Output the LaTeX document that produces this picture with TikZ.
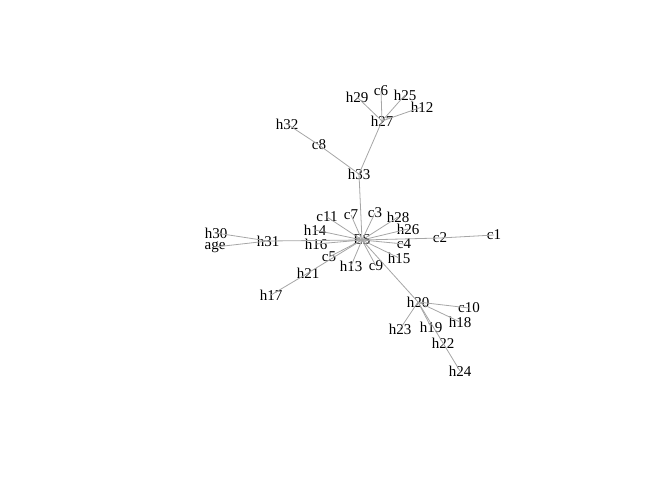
\documentclass[tikz,border=0pt]{standalone}
\usepackage{fontspec}
\setmainfont{Liberation Serif}
\tikzset{
  vlabel/.style={inner sep=0pt, font=\fontsize{15}{18}\selectfont},
  edge/.style={draw=gray!70, line width=0.8pt}
}
\begin{document}
\begin{tikzpicture}[x=1pt,y=-1pt]
\useasboundingbox (0,0) rectangle (672,480);
\foreach \n/\x/\y in {ES/362/240, h33/359/174, c8/319/145, h32/287/124, h27/382/121,
  h29/357/97, c6/381/91, h25/405/95, h12/422/107, c11/327/217, c7/351/215, c3/375/213,
  h28/398/217, h26/408/229, c4/404/244, c2/440/238, c1/494/235, h15/399/258, c9/376/266,
  h13/351/266, c5/329/257, h21/308/273, h17/271/295, h14/315/230, h16/316/244,
  h31/268/241, h30/216/233, age/215/247, h20/418/302, c10/469/308, h18/460/322,
  h19/431/327, h23/400/329, h22/443/343, h24/460/371}
  \node[vlabel] (\n) at (\x,\y) {\n};
\foreach \a/\b in {ES/h33, h33/c8, c8/h32, h33/h27, h27/h29, h27/c6, h27/h25, h27/h12,
  ES/c11, ES/c7, ES/c3, ES/h28, ES/h26, ES/c4, ES/c2, c2/c1, ES/h15, ES/c9, ES/h13,
  ES/c5, ES/h21, h21/h17, ES/h14, ES/h16, ES/h31, h31/h30, h31/age, ES/h20,
  h20/c10, h20/h18, h20/h19, h20/h23, h20/h22, h22/h24}
  \draw[edge] (\a.center) -- (\b.center);
\end{tikzpicture}
\end{document}
